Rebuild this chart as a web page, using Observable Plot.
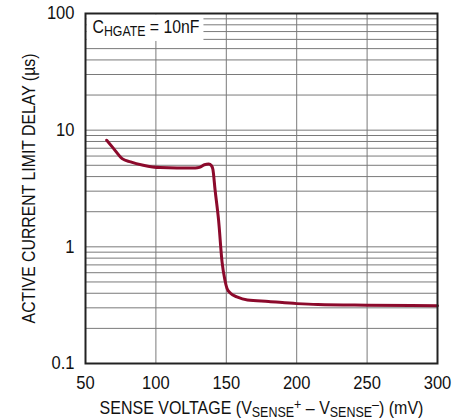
<!DOCTYPE html>
<html>
<head>
<meta charset="utf-8">
<script src="https://cdn.jsdelivr.net/npm/d3@7"></script>
<script src="https://cdn.jsdelivr.net/npm/@observablehq/plot@0.6"></script>
<style>
  html, body { margin: 0; padding: 0; background: #fff; }
  #chart svg { display: block; }
</style>
</head>
<body>
<div id="chart"></div>
<script>
// Data
const senseVoltage = [65, 70, 76, 82, 91, 103, 115, 128, 131, 134.5, 137.5, 139.5, 140.5, 142, 144.5, 147, 149, 150.5, 153, 158, 165, 180, 200, 215, 250, 300];
const limitDelay   = [8.2, 6.95, 5.71, 5.35, 5.01, 4.78, 4.75, 4.75, 4.8, 5.05, 5.12, 4.95, 4.6, 3.1, 1.7, 0.74, 0.52, 0.44, 0.40, 0.37, 0.35, 0.34, 0.326, 0.32, 0.316, 0.313];

const xTicks = [50, 100, 150, 200, 250, 300];
const yTicks = [0.1, 1, 10, 100];
const yTickLabels = ["0.1", "1", "10", "100"];
const yDecades = [0.1, 1, 10];
const yMultipliers = [1, 2, 3, 4, 5, 6, 7, 8, 9];
const annotationText = "CHGATE = 10nF";
const xLabel = "SENSE VOLTAGE (VSENSE+ – VSENSE–) (mV)";
const yLabel = "ACTIVE CURRENT LIMIT DELAY (µs)";

const data = senseVoltage.map((v, i) => ({v, d: limitDelay[i]}));
const yGrid = yDecades.flatMap(d => yMultipliers.map(m => d * m)).concat([100]);
const xGrid = xTicks;

const FONT = "'Liberation Sans', Arial, sans-serif";

const chart = Plot.plot({
  width: 474,
  height: 420,
  marginLeft: 85,
  marginRight: 37,
  marginTop: 13,
  marginBottom: 57,
  style: {fontFamily: FONT, fontSize: "18px", color: "#111", background: "#fff", overflow: "visible"},
  x: {domain: [50, 300]},
  y: {type: "log", domain: [0.1, 100]},
  marks: [
    Plot.ruleY(yGrid, {stroke: "#7a7a7a", strokeWidth: 1, strokeOpacity: 1}),
    Plot.ruleX(xGrid, {stroke: "#7a7a7a", strokeWidth: 1, strokeOpacity: 1}),
    Plot.axisX(xTicks, {tickSize: 0, tickPadding: 13, fontSize: 18, label: xLabel, labelAnchor: "center", labelOffset: 50, labelArrow: "none"}),
    Plot.axisY(yTicks, {tickSize: 0, tickPadding: 11, fontSize: 18, tickFormat: (d) => yTickLabels[yTicks.indexOf(d)], label: yLabel, labelAnchor: "center", labelOffset: 63, labelArrow: "none"}),
    Plot.text([annotationText], {x: () => 50, y: () => 100, frameAnchor: "top-left", textAnchor: "start", lineAnchor: "top", dx: 7, dy: 7, fontSize: 18, fill: "#111"}),
    Plot.line(data, {x: "v", y: "d", stroke: "#8c0a2c", strokeWidth: 3, curve: "monotone-x"}),
    Plot.frame({stroke: "#222", strokeWidth: 2})
  ]
});

document.getElementById("chart").appendChild(chart);

const SVGNS = "http://www.w3.org/2000/svg";
function setRich(textEl, parts) {
  while (textEl.firstChild) textEl.removeChild(textEl.firstChild);
  for (const [s, kind] of parts) {
    const t = document.createElementNS(SVGNS, "tspan");
    t.textContent = s;
    if (kind === "sub") { t.setAttribute("font-size", "0.78em"); t.setAttribute("baseline-shift", "-0.25em"); }
    if (kind === "sup") { t.setAttribute("font-size", "0.78em"); t.setAttribute("baseline-shift", "0.3em"); }
    textEl.appendChild(t);
  }
}
const texts = () => [...chart.querySelectorAll("text")];
const clean = (s) => s.replace(/\s*[→↑←↓]\s*/g, "").trim();

// condense text horizontally (reference uses a narrow face)
function condense(t, s) {
  const bb = t.getBBox();
  const anchor = getComputedStyle(t).textAnchor;
  const cx = anchor === "end" ? bb.x + bb.width : anchor === "middle" ? bb.x + bb.width / 2 : bb.x;
  const prev = t.getAttribute("transform") || "";
  t.setAttribute("transform", `${prev} translate(${cx} 0) scale(${s} 1) translate(${-cx} 0)`);
}

let annText = null, xl = null, yl = null;
for (const t of texts()) {
  const c = clean(t.textContent);
  if (c === annotationText) annText = t;
  else if (c === xLabel) xl = t;
  else if (c === yLabel) yl = t;
}

if (xl) {
  setRich(xl, [["SENSE VOLTAGE (V", null], ["SENSE", "sub"], ["+", "sup"], [" – V", null], ["SENSE", "sub"], ["–", "sup"], [") (mV)", null]]);
  condense(xl, 324 / xl.getBBox().width);
}
if (yl) {
  yl.textContent = yLabel;
  condense(yl, 270 / yl.getBBox().width);
}
for (const t of texts()) {
  if (t !== xl && t !== yl && t !== annText && t.textContent) condense(t, 0.92);
}
if (annText) {
  setRich(annText, [["C", null], ["HGATE", "sub"], [" = 10nF", null]]);
  condense(annText, 107 / annText.getBBox().width);
  const r = annText.getBoundingClientRect();
  const sr = chart.getBoundingClientRect();
  const left = r.left - sr.left, top = r.top - sr.top;
  const rect = document.createElementNS(SVGNS, "rect");
  rect.setAttribute("x", left - 6);
  rect.setAttribute("y", top - 3);
  rect.setAttribute("width", r.width + 10);
  rect.setAttribute("height", r.height + 4);
  rect.setAttribute("fill", "#fff");
  const g = annText.closest("g");
  g.parentNode.insertBefore(rect, g);
}
</script>
</body>
</html>
